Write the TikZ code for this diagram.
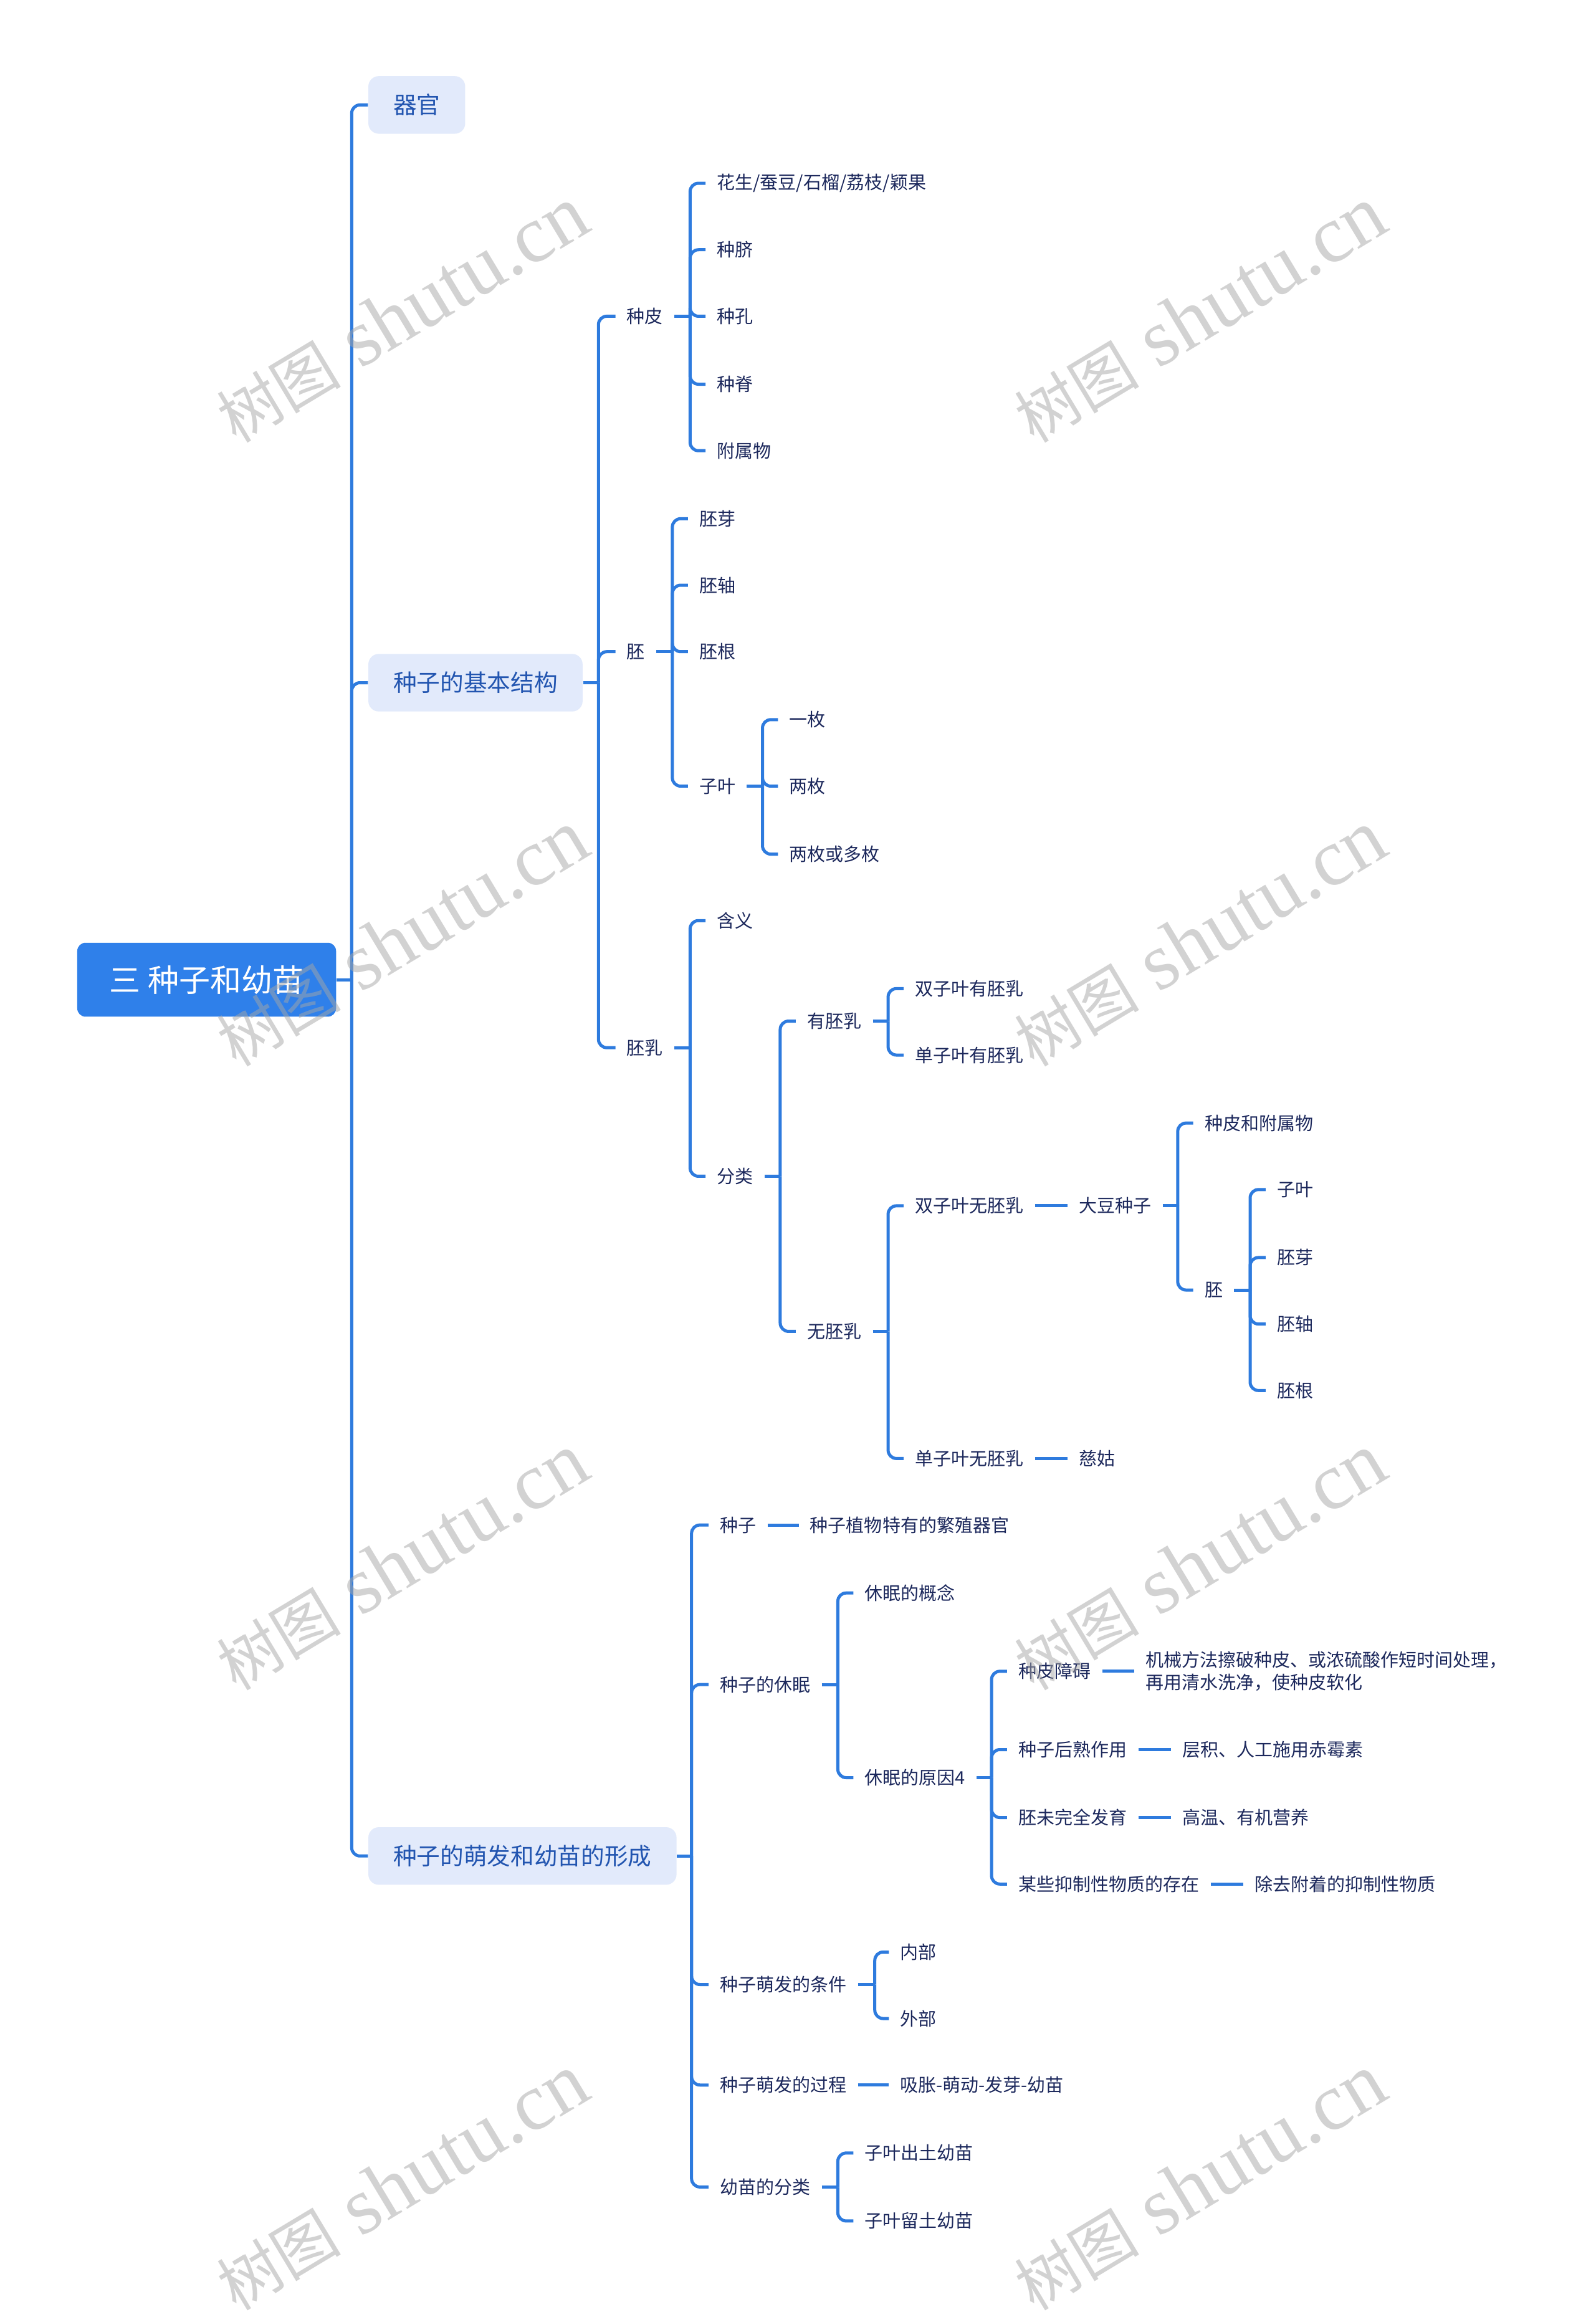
\documentclass[tikz,border=0pt]{standalone}
\usepackage{fontspec}
\setmainfont{Liberation Serif}
\newfontfamily\cjk{Noto Sans CJK SC}
\definecolor{lineblue}{RGB}{46,123,222}
\definecolor{rootblue}{RGB}{47,128,234}
\definecolor{boxfill}{RGB}{226,234,251}
\definecolor{boxtext}{RGB}{34,85,176}
\definecolor{leaftext}{RGB}{28,40,92}
\newcommand\lf[4]{\node[leaf] (#1) at (#2-7.5,#3) {#4};}
\newcommand\br[2]{\draw[conn] (#1) |- (#2.west);}
\begin{document}
\begin{tikzpicture}[x=0.025cm,y=-0.025cm,
 conn/.style={draw=lineblue,line width=1.5pt,rounded corners=4pt},
 leaf/.style={anchor=west,inner xsep=5.3pt,inner ysep=1pt,text=leaftext,font=\cjk\fontsize{8.7}{10.7}\selectfont},
 lvl/.style={anchor=west,fill=boxfill,rounded corners=5pt,inner xsep=12pt,inner ysep=0pt,minimum height=27.7pt,text=boxtext,font=\cjk\fontsize{11.3}{13}\selectfont},
 rootbox/.style={anchor=west,fill=rootblue,rounded corners=4pt,inner xsep=15.6pt,inner ysep=0pt,minimum height=35.6pt,text=white,font=\cjk\fontsize{15}{18}\selectfont},
 wm/.style={rotate=31,text=gray!70,text opacity=0.5,inner sep=0pt,font=\fontsize{39}{41}\selectfont}]
\useasboundingbox (0,0) rectangle (1080,1568);
\fill[white] (0,0) rectangle (1080,1568);

% root and level 1
\node[rootbox] (root) at (52,663) {三 种子和幼苗};
\node[lvl] (qg) at (249,71) {器官};
\node[lvl] (jg) at (249,462) {种子的基本结构};
\node[lvl] (mf) at (249,1256) {种子的萌发和幼苗的形成};
\coordinate (s0) at (238,663);
\draw[conn] (root.east) -- (s0);
\br{s0}{qg}\br{s0}{jg}\br{s0}{mf}

% 种子的基本结构
\lf{zp}{424}{214}{种皮}
\lf{pei}{424}{441}{胚}
\lf{peiru}{424}{709}{胚乳}
\coordinate (s1) at (405,462);
\draw[conn] (jg.east) -- (s1);
\br{s1}{zp}\br{s1}{pei}\br{s1}{peiru}

\lf{zp1}{485}{124}{花生/蚕豆/石榴/荔枝/颖果}
\lf{zp2}{485}{169}{种脐}
\lf{zp3}{485}{214}{种孔}
\lf{zp4}{485}{260}{种脊}
\lf{zp5}{485}{305}{附属物}
\coordinate (s2) at (467,214);
\draw[conn] (zp.east) -- (s2);
\br{s2}{zp1}\br{s2}{zp2}\br{s2}{zp3}\br{s2}{zp4}\br{s2}{zp5}

\lf{p1}{473}{351}{胚芽}
\lf{p2}{473}{396}{胚轴}
\lf{p3}{473}{441}{胚根}
\lf{p4}{473}{532}{子叶}
\coordinate (s3) at (455,441);
\draw[conn] (pei.east) -- (s3);
\br{s3}{p1}\br{s3}{p2}\br{s3}{p3}\br{s3}{p4}

\lf{zy1}{534}{487}{一枚}
\lf{zy2}{534}{532}{两枚}
\lf{zy3}{534}{578}{两枚或多枚}
\coordinate (s4) at (516,532);
\draw[conn] (p4.east) -- (s4);
\br{s4}{zy1}\br{s4}{zy2}\br{s4}{zy3}

\lf{pr1}{485}{623}{含义}
\lf{pr2}{485}{796}{分类}
\coordinate (s5) at (467,709);
\draw[conn] (peiru.east) -- (s5);
\br{s5}{pr1}\br{s5}{pr2}

\lf{fl1}{546}{691}{有胚乳}
\lf{fl2}{546}{901}{无胚乳}
\coordinate (s6) at (528,796);
\draw[conn] (pr2.east) -- (s6);
\br{s6}{fl1}\br{s6}{fl2}

\lf{y1}{619}{669}{双子叶有胚乳}
\lf{y2}{619}{714}{单子叶有胚乳}
\coordinate (s7) at (601,691);
\draw[conn] (fl1.east) -- (s7);
\br{s7}{y1}\br{s7}{y2}

\lf{w1}{619}{816}{双子叶无胚乳}
\lf{w2}{619}{987}{单子叶无胚乳}
\coordinate (s8) at (601,901);
\draw[conn] (fl2.east) -- (s8);
\br{s8}{w1}\br{s8}{w2}

\lf{dd}{730}{816}{大豆种子}
\draw[conn] (w1.east) -- (dd.west);
\lf{cg}{730}{987}{慈姑}
\draw[conn] (w2.east) -- (cg.west);

\lf{dd1}{815}{760}{种皮和附属物}
\lf{dd2}{815}{873}{胚}
\coordinate (s9) at (797,816);
\draw[conn] (dd.east) -- (s9);
\br{s9}{dd1}\br{s9}{dd2}

\lf{e1}{864}{805}{子叶}
\lf{e2}{864}{851}{胚芽}
\lf{e3}{864}{896}{胚轴}
\lf{e4}{864}{941}{胚根}
\coordinate (s10) at (846,873);
\draw[conn] (dd2.east) -- (s10);
\br{s10}{e1}\br{s10}{e2}\br{s10}{e3}\br{s10}{e4}

% 种子的萌发和幼苗的形成
\lf{m1}{487}{1032}{种子}
\lf{m2}{487}{1140}{种子的休眠}
\lf{m3}{487}{1343}{种子萌发的条件}
\lf{m4}{487}{1411}{种子萌发的过程}
\lf{m5}{487}{1480}{幼苗的分类}
\coordinate (s11) at (468,1256);
\draw[conn] (mf.east) -- (s11);
\br{s11}{m1}\br{s11}{m2}\br{s11}{m3}\br{s11}{m4}\br{s11}{m5}

\lf{m1a}{548}{1032}{种子植物特有的繁殖器官}
\draw[conn] (m1.east) -- (m1a.west);

\lf{x1}{585}{1078}{休眠的概念}
\lf{x2}{585}{1203}{休眠的原因4}
\coordinate (s12) at (567,1140);
\draw[conn] (m2.east) -- (s12);
\br{s12}{x1}\br{s12}{x2}

\lf{r1}{689}{1131}{种皮障碍}
\lf{r2}{689}{1184}{种子后熟作用}
\lf{r3}{689}{1230}{胚未完全发育}
\lf{r4}{689}{1275}{某些抑制性物质的存在}
\coordinate (s13) at (671,1203);
\draw[conn] (x2.east) -- (s13);
\br{s13}{r1}\br{s13}{r2}\br{s13}{r3}\br{s13}{r4}

\node[leaf,align=left] (r1a) at (775-7.5,1131) {机械方法擦破种皮、或浓硫酸作短时间处理，\\再用清水洗净，使种皮软化};
\draw[conn] (r1.east) -- (r1.east -| r1a.west);
\lf{r2a}{800}{1184}{层积、人工施用赤霉素}
\draw[conn] (r2.east) -- (r2a.west);
\lf{r3a}{800}{1230}{高温、有机营养}
\draw[conn] (r3.east) -- (r3a.west);
\lf{r4a}{849}{1275}{除去附着的抑制性物质}
\draw[conn] (r4.east) -- (r4a.west);

\lf{t1}{609}{1321}{内部}
\lf{t2}{609}{1366}{外部}
\coordinate (s14) at (592,1343);
\draw[conn] (m3.east) -- (s14);
\br{s14}{t1}\br{s14}{t2}

\lf{m4a}{609}{1411}{吸胀-萌动-发芽-幼苗}
\draw[conn] (m4.east) -- (m4a.west);

\lf{u1}{585}{1457}{子叶出土幼苗}
\lf{u2}{585}{1503}{子叶留土幼苗}
\coordinate (s15) at (567,1480);
\draw[conn] (m5.east) -- (s15);
\br{s15}{u1}\br{s15}{u2}

% watermarks
\foreach \wx in {272,812}{
 \foreach \wy in {213,635,1057,1477}{
  \node[wm] at (\wx,\wy) {{\cjk\fontsize{30}{32}\selectfont 树图} shutu.cn};
 }}
\end{tikzpicture}
\end{document}
